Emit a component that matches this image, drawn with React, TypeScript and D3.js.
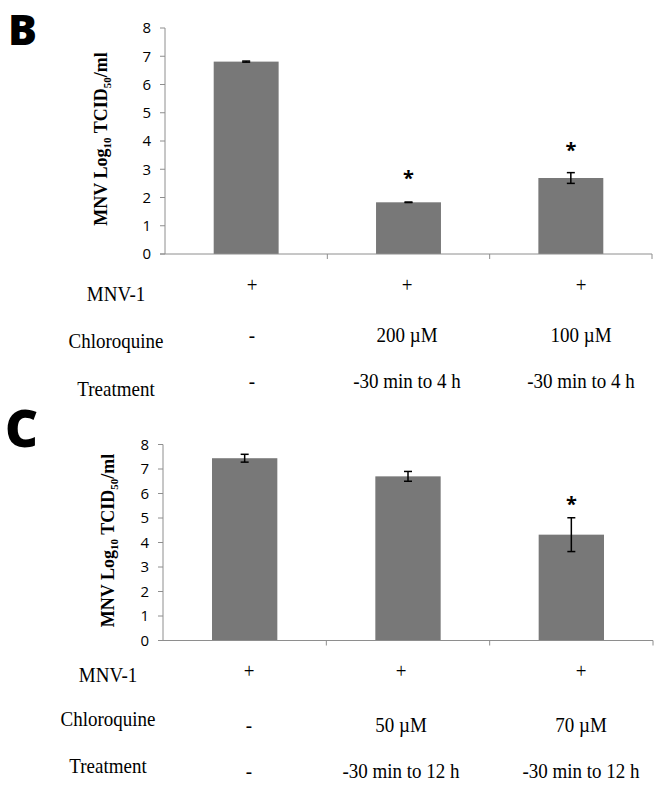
import React from "react";
import * as d3 from "d3";

// ---- data ----
const groups = ["g1", "g2", "g3"];
const yTicks = [0, 1, 2, 3, 4, 5, 6, 7, 8];
const rowLabels = ["MNV-1", "Chloroquine", "Treatment"];

const panelBValues = [6.81, 1.83, 2.69];
const panelBErrors = [0.02, 0.008, 0.19];
const panelBStarAt = [null, 2.88, 3.87];
const panelBRows = [
  ["+", "+", "+"],
  ["-", "200 \u00b5M", "100 \u00b5M"],
  ["-", "-30 min to 4 h", "-30 min to 4 h"],
];

const panelCValues = [7.44, 6.7, 4.32];
const panelCErrors = [0.16, 0.2, 0.69];
const panelCStarAt = [null, null, 5.79];
const panelCRows = [
  ["+", "+", "+"],
  ["-", "50 \u00b5M", "70 \u00b5M"],
  ["-", "-30 min to 12 h", "-30 min to 12 h"],
];

// ---- layout ----
const W = 664;
const H = 788;
const BAR = "#787878";
const AXIS = "#8e8e8e";
const SERIF = "'Liberation Serif', 'Times New Roman', serif";
const SANS = "'Open Sans', 'Liberation Sans', sans-serif";

type PanelCfg = {
  letter: string;
  letterX: number;
  letterY: number;
  letterSize: number;
  x0: number;
  x1: number;
  yTop: number;
  yBase: number;
  titleX: number;
  values: number[];
  errors: number[];
  starAt: (number | null)[];
  rows: string[][];
  colX: number[];
  labelX: number;
  labelBaselines: number[];
  valueBaselines: number[];
};

const panels: PanelCfg[] = [
  {
    letter: "B",
    letterX: 8,
    letterY: 45,
    letterSize: 43,
    x0: 165,
    x1: 652,
    yTop: 28,
    yBase: 254,
    titleX: 107,
    values: panelBValues,
    errors: panelBErrors,
    starAt: panelBStarAt,
    rows: panelBRows,
    colX: [252, 407, 581],
    labelX: 116,
    labelBaselines: [300.5, 348, 395.5],
    valueBaselines: [292, 341.5, 388.3],
  },
  {
    letter: "C",
    letterX: 5,
    letterY: 447,
    letterSize: 51,
    x0: 163,
    x1: 653,
    yTop: 444.5,
    yBase: 640.5,
    titleX: 114,
    values: panelCValues,
    errors: panelCErrors,
    starAt: panelCStarAt,
    rows: panelCRows,
    colX: [249, 401, 581],
    labelX: 108,
    labelBaselines: [681.5, 725.7, 773.3],
    valueBaselines: [677.5, 731.5, 778.3],
  },
];

function Panel({ p }: { p: PanelCfg }) {
  const x = d3.scaleBand<string>().domain(groups).range([p.x0, p.x1]).paddingInner(0).paddingOuter(0);
  const y = d3.scaleLinear().domain([0, 8]).range([p.yBase, p.yTop]);
  const bw = x.bandwidth() * 0.4;
  const col = d3.scaleOrdinal<string, number>().domain(groups).range(p.colX);
  const titleY = (p.yTop + p.yBase) / 2 - 2;
  const cap = 4;

  return (
    <g>
      <text
        x={p.letterX}
        y={p.letterY}
        fontFamily={SANS}
        fontWeight={800}
        fontSize={p.letterSize}
        fill="#000"
      >
        {p.letter}
      </text>

      {/* y axis */}
      <line x1={p.x0} x2={p.x0} y1={y(8)} y2={y(0)} stroke={AXIS} strokeWidth={1} />
      {yTicks.map((t) => (
        <g key={t}>
          <line x1={p.x0 - 5} x2={p.x0} y1={y(t)} y2={y(t)} stroke={AXIS} strokeWidth={1} />
          <text
            x={p.x0 - 14}
            y={y(t)}
            dy="0.36em"
            textAnchor="end"
            fontFamily={SANS}
            fontSize={15}
            fill="#000"
          >
            {t}
          </text>
        </g>
      ))}

      {/* y title */}
      <text
        transform={`translate(${p.titleX},${titleY}) rotate(-90)`}
        textAnchor="middle"
        fontFamily={SERIF}
        fontWeight="bold"
        fontSize={18}
        fill="#000"
      >
        <tspan>MNV Log</tspan>
        <tspan fontSize={11} dy={4}>10</tspan>
        <tspan dy={-4}> TCID</tspan>
        <tspan fontSize={11} dy={4}>50</tspan>
        <tspan dy={-4}>/ml</tspan>
      </text>

      {/* bars */}
      {groups.map((g, i) => {
        const cx = (x(g) as number) + x.bandwidth() / 2;
        const v = p.values[i];
        const e = p.errors[i];
        const s = p.starAt[i];
        return (
          <g key={g}>
            <rect x={cx - bw / 2} y={y(v)} width={bw} height={y(0) - y(v)} fill={BAR} />
            <line x1={cx} x2={cx} y1={y(v + e)} y2={y(v - e)} stroke="#000" strokeWidth={1.5} />
            <line x1={cx - cap} x2={cx + cap} y1={y(v + e)} y2={y(v + e)} stroke="#000" strokeWidth={1.5} />
            <line x1={cx - cap} x2={cx + cap} y1={y(v - e)} y2={y(v - e)} stroke="#000" strokeWidth={1.5} />
            {s !== null && (
              <text
                x={cx}
                y={y(s as number)}
                dy="0.62em"
                textAnchor="middle"
                fontFamily={SANS}
                fontWeight="bold"
                fontSize={20}
                fill="#000"
              >
                *
              </text>
            )}
          </g>
        );
      })}

      {/* x axis */}
      <line x1={p.x0 - 5} x2={p.x1} y1={y(0)} y2={y(0)} stroke={AXIS} strokeWidth={1} />
      {groups.map((g) => {
        const xe = (x(g) as number) + x.bandwidth();
        return <line key={g} x1={xe} x2={xe} y1={y(0)} y2={y(0) + 5} stroke={AXIS} strokeWidth={1} />;
      })}

      {/* table */}
      {rowLabels.map((lab, r) => (
        <g key={lab}>
          <text
            transform={`translate(${p.labelX},${p.labelBaselines[r]}) scale(1,1.1)`}
            textAnchor="middle"
            fontFamily={SERIF}
            fontSize={19}
            fill="#000"
          >
            {lab}
          </text>
          {groups.map((g, c) => (
            <text
              key={g}
              transform={`translate(${col(g)},${p.valueBaselines[r]}) scale(1,1.1)`}
              textAnchor="middle"
              fontFamily={SERIF}
              fontSize={19}
              fill="#000"
            >
              {p.rows[r][c]}
            </text>
          ))}
        </g>
      ))}
    </g>
  );
}

export default function App() {
  return (
    <svg
      width={W}
      height={H}
      viewBox={`0 0 ${W} ${H}`}
      style={{ position: "absolute", left: 0, top: 0, background: "#fff" }}
    >
      <rect width={W} height={H} fill="#fff" />
      {panels.map((p) => (
        <Panel key={p.letter} p={p} />
      ))}
    </svg>
  );
}
